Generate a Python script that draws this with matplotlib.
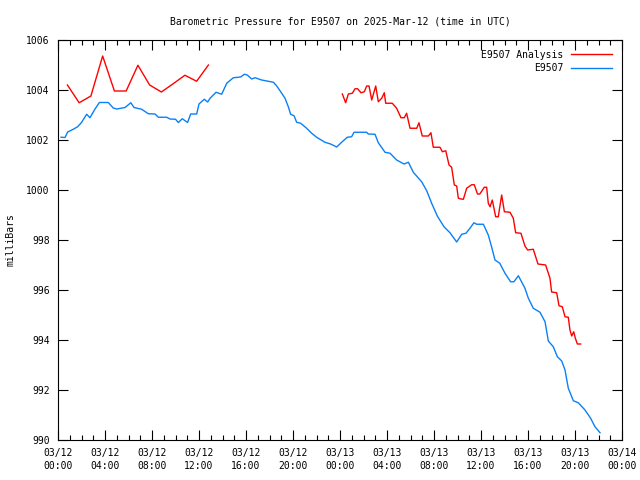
import matplotlib
matplotlib.use('Agg')
import matplotlib.pyplot as plt
from matplotlib.ticker import MultipleLocator

# hours since 2025-03-12 00:00 UTC
analysis_hours = [0.8, 1.8, 2.8, 3.8, 4.8, 5.8, 6.8, 7.8, 8.8, 9.8, 10.8, 11.8, 12.8,
                  None,
                  24.2, 24.48, 24.71, 25.05, 25.28, 25.5, 25.79, 26.07, 26.27, 26.47,
                  26.7, 27.04, 27.26, 27.55, 27.77, 27.89, 28.45, 28.82, 29.19, 29.47,
                  29.67, 29.96, 30.53, 30.72, 31.0, 31.52, 31.74, 31.94, 32.51, 32.71,
                  33.0, 33.28, 33.5, 33.73, 33.93, 34.07, 34.3, 34.5, 34.78, 35.2,
                  35.43, 35.7, 35.9, 36.28, 36.48, 36.62, 36.77, 36.96, 37.25, 37.47,
                  37.76, 37.99, 38.47, 38.75, 38.95, 39.4, 39.74, 39.97, 40.45, 40.74,
                  40.85, 41.5, 41.87, 42.01, 42.44, 42.64, 42.92, 43.15, 43.43, 43.57,
                  43.72, 43.89, 44.03, 44.2, 44.48]
analysis_mb = [1004.2, 1003.49, 1003.76, 1005.36, 1003.96, 1003.96, 1004.99, 1004.2,
               1003.92, 1004.25, 1004.59, 1004.35, 1005.0,
               None,
               1003.84, 1003.49, 1003.84, 1003.87, 1004.05, 1004.05, 1003.89, 1003.93,
               1004.16, 1004.16, 1003.6, 1004.16, 1003.53, 1003.67, 1003.89, 1003.47,
               1003.47, 1003.27, 1002.89, 1002.89, 1003.07, 1002.47, 1002.47, 1002.69,
               1002.16, 1002.16, 1002.29, 1001.71, 1001.71, 1001.53, 1001.57, 1001.0,
               1000.91, 1000.2, 1000.16, 999.67, 999.64, 999.63, 1000.07, 1000.21,
               1000.21, 999.84, 999.84, 1000.11, 1000.11, 999.47, 999.33, 999.6,
               998.93, 998.93, 999.8, 999.13, 999.11, 998.87, 998.29, 998.27, 997.76,
               997.6, 997.63, 997.2, 997.04, 997.0, 996.47, 995.92, 995.89, 995.37,
               995.33, 994.93, 994.91, 994.4, 994.16, 994.33, 994.07, 993.84, 993.84]

obs_hours = [0.26, 0.6, 0.82, 1.3, 1.67, 2.0, 2.44, 2.72, 3.15, 3.52, 4.28, 4.7, 5.0,
             5.7, 6.2, 6.47, 7.12, 7.69, 8.26, 8.54, 9.25, 9.53, 10.0, 10.24, 10.58,
             11.03, 11.29, 11.8, 12.0, 12.45, 12.74, 12.94, 13.45, 13.93, 14.36, 14.92,
             15.55, 15.86, 16.11, 16.48, 16.77, 17.33, 18.33, 18.6, 19.04, 19.32, 19.6,
             19.8, 20.09, 20.31, 20.65, 21.16, 21.59, 22.01, 22.72, 23.2, 23.72, 24.14,
             24.62, 24.99, 25.19, 25.64, 26.27, 26.4, 26.98, 27.26, 27.83, 28.26, 28.82,
             29.45, 29.82, 30.24, 30.95, 31.38, 31.8, 32.28, 32.85, 33.36, 33.93, 34.36,
             34.72, 35.06, 35.4, 35.63, 36.2, 36.62, 36.9, 37.19, 37.6, 38.04, 38.52,
             38.8, 39.18, 39.74, 40.03, 40.45, 41.02, 41.45, 41.73, 42.15, 42.5, 42.87,
             43.15, 43.43, 43.86, 44.28, 44.85, 45.33, 45.7, 46.13]
obs_mb = [1002.11, 1002.1, 1002.32, 1002.43, 1002.53, 1002.7, 1003.03, 1002.89,
          1003.24, 1003.5, 1003.5, 1003.28, 1003.24, 1003.3, 1003.49, 1003.3, 1003.23,
          1003.05, 1003.04, 1002.91, 1002.91, 1002.84, 1002.83, 1002.7, 1002.85,
          1002.7, 1003.04, 1003.04, 1003.44, 1003.63, 1003.52, 1003.67, 1003.91,
          1003.83, 1004.27, 1004.49, 1004.52, 1004.63, 1004.6, 1004.44, 1004.49,
          1004.4, 1004.31, 1004.17, 1003.87, 1003.67, 1003.33, 1003.03, 1002.97,
          1002.71, 1002.67, 1002.47, 1002.27, 1002.11, 1001.91, 1001.84, 1001.72,
          1001.91, 1002.11, 1002.13, 1002.31, 1002.31, 1002.31, 1002.24, 1002.23,
          1001.89, 1001.51, 1001.47, 1001.2, 1001.04, 1001.11, 1000.71, 1000.33,
          999.97, 999.47, 998.96, 998.53, 998.29, 997.92, 998.23, 998.27, 998.47,
          998.69, 998.63, 998.63, 998.2, 997.73, 997.2, 997.07, 996.67, 996.33,
          996.33, 996.57, 996.07, 995.67, 995.27, 995.11, 994.73, 993.96, 993.73,
          993.33, 993.16, 992.8, 992.07, 991.57, 991.49, 991.2, 990.87, 990.53, 990.29]

tick_hours = [0, 4, 8, 12, 16, 20, 24, 28, 32, 36, 40, 44, 48]
tick_labels = ['03/12\n00:00', '03/12\n04:00', '03/12\n08:00', '03/12\n12:00',
               '03/12\n16:00', '03/12\n20:00', '03/13\n00:00', '03/13\n04:00',
               '03/13\n08:00', '03/13\n12:00', '03/13\n16:00', '03/13\n20:00',
               '03/14\n00:00']

plt.rcParams['font.family'] = ['DejaVu Sans Mono']
plt.rcParams['font.size'] = 7

fig = plt.figure(figsize=(6.4, 4.8), dpi=100)
ax = fig.add_axes([58 / 640, 40 / 480, 564 / 640, 400 / 480])

# break the analysis line where data is missing
ah = [float('nan') if h is None else h for h in analysis_hours]
am = [float('nan') if v is None else v for v in analysis_mb]
ax.plot(ah, am, color='#ff0000', lw=1.0, label='E9507 Analysis')
ax.plot(obs_hours, obs_mb, color='#0a80f5', lw=1.0, label='E9507')

ax.set_xlim(0, 48)
ax.set_ylim(990, 1006)
ax.set_xticks(tick_hours)
ax.set_xticklabels(tick_labels, linespacing=1.35)
ax.xaxis.set_minor_locator(MultipleLocator(1))
ax.set_yticks(range(990, 1007, 2))
ax.tick_params(axis='both', which='major', direction='in', length=7, width=0.8,
               top=True, right=True, pad=6)
ax.tick_params(axis='x', which='minor', direction='in', length=3.5, width=0.8,
               top=True)
for s in ax.spines.values():
    s.set_linewidth(0.8)

ax.set_title('Barometric Pressure for E9507 on 2025-Mar-12 (time in UTC)',
             fontsize=7, pad=11)
ax.set_ylabel('milliBars', labelpad=8)

leg = ax.legend(loc='upper right', frameon=False, markerfirst=False,
                handlelength=4.2, handletextpad=0.8, borderaxespad=0.6,
                labelspacing=0.35)
for t in leg.get_texts():
    t.set_ha('right')

fig.savefig('out.png', dpi=100)
